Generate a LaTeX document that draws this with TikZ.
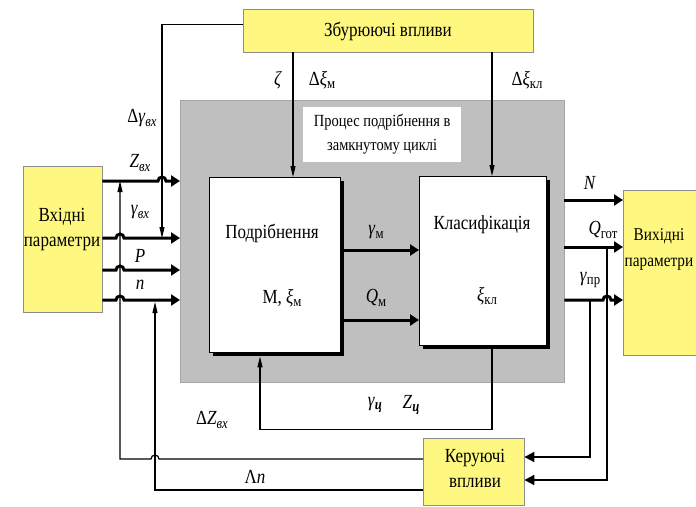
\documentclass[tikz,border=0pt]{standalone}
\usepackage{fontspec}
\setmainfont[FakeStretch=0.85]{Liberation Serif}
\usetikzlibrary{arrows.meta,positioning,calc}
\newcommand\fsz[2]{\fontsize{#1}{#2}\selectfont}
\newcommand\sbs[1]{\raisebox{-0.4ex}{\fsz{15}{15}#1}}
\tikzset{
  ybox/.style={rectangle, draw=black!45, fill=yellow!50, inner sep=0pt, anchor=north west},
  wbox/.style={rectangle, draw=black, fill=white, inner sep=0pt, anchor=north west},
  shd/.style={rectangle, fill=black, inner sep=0pt, anchor=north west},
  txt/.style={font=\fsz{20}{25}, inner sep=0pt, align=center},
  lbl/.style={font=\fsz{20}{20}, inner sep=1pt},
  sig/.style={line width=3pt, -{Triangle[length=9pt,width=11pt]}},
  fb/.style={line width=1.2pt, -{Triangle[length=11pt,width=5pt]}},
  ctl/.style={line width=2pt, -{Triangle[length=10pt,width=10pt]}},
}
\begin{document}
\begin{tikzpicture}[x=1pt, y=-1pt]
\useasboundingbox (0,0) rectangle (696,506);

% PROTSES U ZAMKNUTOMU TSYKLI
\node[rectangle, draw=black!35, fill=black!25, inner sep=0pt, anchor=north west, minimum width=384pt, minimum height=282pt] (proc) at (180,100) {};
\node[txt, fill=white, anchor=north west, minimum width=158pt, minimum height=55pt, font=\fsz{17}{24}] (title) at (303,107) {Процес подрібнення в\\замкнутому циклі};

% BLOKY
\node[shd, minimum width=131pt, minimum height=175pt] (podsh) at (213,181) {};
\node[wbox, minimum width=131pt, minimum height=175pt] (pod) at (209,177) {};
\node[txt] (podt) at (272,233) {Подрібнення};
\node[txt] (podm) at (282,298) {М, \textit{ξ}\sbs{м}};
\node[shd, minimum width=127pt, minimum height=169pt] (klassh) at (423,180) {};
\node[wbox, minimum width=127pt, minimum height=169pt] (klas) at (419,176) {};
\node[txt] (klast) at (482,225) {Класифікація};
\node[txt] (klasx) at (487,296) {\textit{ξ}\sbs{кл}};

% ZOVNISHNI BLOKY
\node[ybox, minimum width=290pt, minimum height=43pt] (zbur) at (243,9) {};
\node[txt] (zburt) at (388,31) {Збурюючі впливи};
\node[ybox, minimum width=79pt, minimum height=146pt] (vin) at (23,166) {};
\node[txt] (vint) at (62,230) {Вхідні\\параметри};
\node[ybox, minimum width=100pt, minimum height=165pt] (vout) at (623,190) {};
\node[txt, font=\fsz{18}{26}] (voutt) at (659,249) {Вихідні\\параметри};
\node[ybox, minimum width=101pt, minimum height=67pt] (ker) at (423,438) {};
\node[txt] (kert) at (475,468) {Керуючі\\впливи};

% Tochky
\coordinate (pz) at (180,181);
\coordinate (pg) at (180,238);
\coordinate (pp) at (180,270);
\coordinate (pn) at (180,300);
\coordinate (zj) at (120,181);
\coordinate (gj) at (162,238);
\coordinate (nj) at (155,302);
\coordinate (kz) at (423,459);
\coordinate (kn) at (423,490);
\coordinate (xm) at (293,0);
\coordinate (xk) at (492,0);
\coordinate (cj) at (260,0);
\coordinate (ym) at (0,250);
\coordinate (qm) at (0,320);
\coordinate (on) at (0,200);
\coordinate (oq) at (0,247);
\coordinate (og) at (0,300);
\coordinate (rq) at (607,247);
\coordinate (rg) at (590,300);
\coordinate (k1) at (0,457);
\coordinate (k2) at (0,480);

% Vkhidni parametry
\draw[sig] (vin.east |- pz) -- ($(pz -| gj)+(-4,0)$) arc[start angle=180, end angle=0, radius=4pt] -- (pz);
\draw[sig] (vin.east |- pg) -- ($(pg -| zj)+(-4,0)$) arc[start angle=180, end angle=0, radius=4pt] -- (pg);
\draw[sig] (vin.east |- pp) -- ($(pp -| zj)+(-4,0)$) arc[start angle=180, end angle=0, radius=4pt] -- (pp);
\draw[sig] (vin.east |- pn) -- ($(pn -| zj)+(-4,0)$) arc[start angle=180, end angle=0, radius=4pt] -- (pn);

% Zburennia
\draw[fb] ($(zbur.west)+(0,-6.5)$) -| (gj);
\draw[fb] (zbur.south -| xm) -- (pod.north -| xm);
\draw[fb] (zbur.south -| xk) -- (klas.north -| xk);

% Vnutrishni zviazky
\draw[sig] (podsh.east |- ym) -- (klas.west |- ym);
\draw[sig] (podsh.east |- qm) -- (klas.west |- qm);
\draw[fb] (klassh.south -| xk) -- ++(0,80) -| (podsh.south -| cj);

% Vykhidni parametry
\draw[sig] (proc.east |- on) -- (vout.west |- on);
\draw[sig] (proc.east |- oq) -- (vout.west |- oq);
\draw[sig] (proc.east |- og) -- ($(og -| rq)+(-4,0)$) arc[start angle=180, end angle=0, radius=4pt] -- (vout.west |- og);

% Keruvannia
\draw[ctl] (rg) |- (ker.east |- k1);
\draw[ctl] (rq) |- (ker.east |- k2);
\draw[fb] (kz) -- ($(kz -| nj)+(4,0)$) arc[start angle=0, end angle=180, radius=4pt] -| (zj);
\draw[fb] (kn) -| (nj);

% Pidpysy
\node[lbl] (lzeta) at (278,80) {\textit{ζ}};
\node[lbl] (ldxm) at (322,80) {Δ\textit{ξ}\sbs{м}};
\node[lbl] (ldxk) at (527,80) {Δ\textit{ξ}\sbs{кл}};
\node[lbl] (ldg) at (142,118) {Δ\textit{γ}\sbs{\textit{вх}}};
\node[lbl] (lz) at (140,163) {\textit{Z}\sbs{\textit{вх}}};
\node[lbl] (lg) at (140,212) {\textit{γ}\sbs{\textit{вх}}};
\node[lbl] (lp) at (140,256) {\textit{P}};
\node[lbl] (ln) at (140,285) {\textit{n}};
\node[lbl] (lgm) at (376,232) {\textit{γ}\sbs{м}};
\node[lbl] (lqm) at (376,298) {\textit{Q}\sbs{м}};
\node[lbl] (lN) at (590,183) {\textit{N}};
\node[lbl] (lqg) at (603,230) {\textit{Q}\sbs{гот}};
\node[lbl] (lgp) at (590,280) {\textit{γ}\sbs{пр}};
\node[lbl] (lgc) at (375,405) {\textit{γ}\sbs{\textit{\textbf{ц}}}};
\node[lbl] (lzc) at (411,405) {\textit{Z}\sbs{\textit{\textbf{ц}}}};
\node[lbl] (ldz) at (212,420) {Δ\textit{Z}\sbs{\textit{вх}}};
\node[lbl] (lln) at (255,477) {Λ\textit{n}};

\end{tikzpicture}
\end{document}
